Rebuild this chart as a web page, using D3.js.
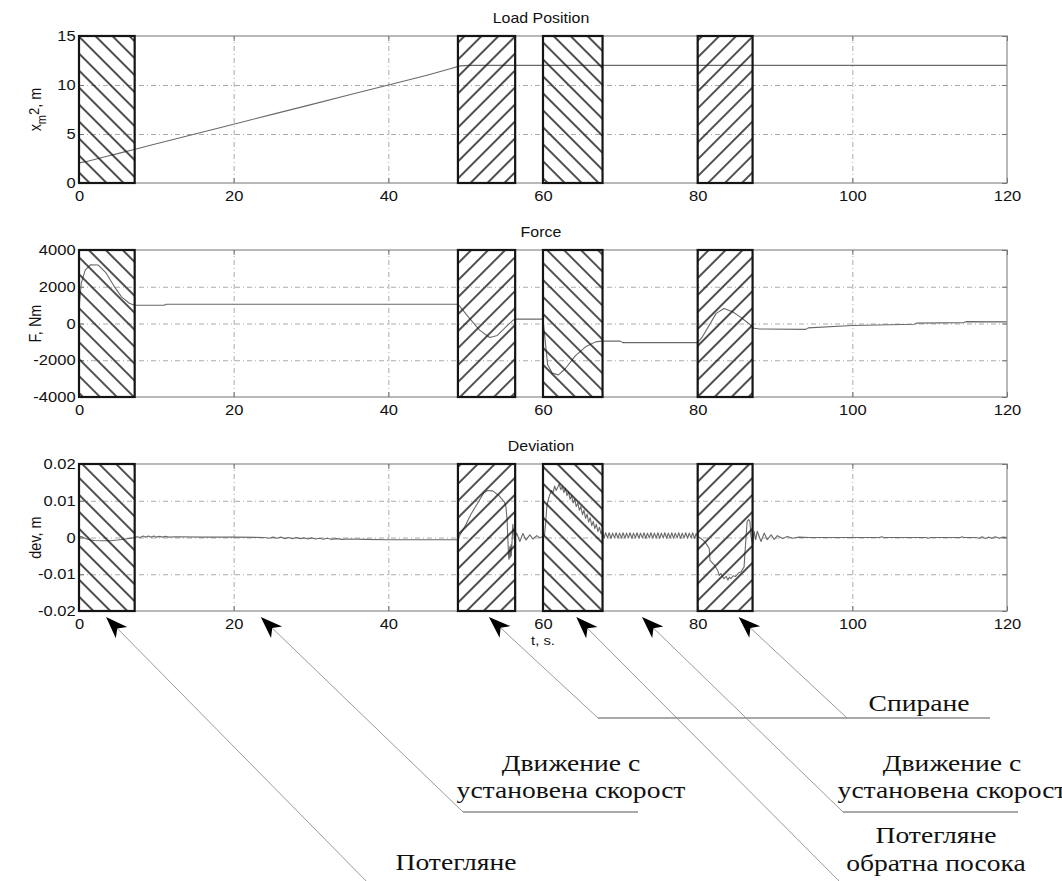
<!DOCTYPE html>
<html>
<head>
<meta charset="utf-8">
<script src="https://cdn.jsdelivr.net/npm/d3@7"></script>
<style>
  body { margin: 0; background: #fff; }
  svg { display: block; }
  .sans { font-family: "Liberation Sans", Arial, Helvetica, sans-serif; fill: #111; }
  .serif { font-family: "Liberation Serif", "Times New Roman", serif; fill: #111; }
</style>
</head>
<body>
<svg id="chart" width="1062" height="881"></svg>
<script>
// ---- data ----
const timeTicks = [0, 20, 40, 60, 80, 100, 120];
const positionTicks = [0, 5, 10, 15];
const forceTicks = [-4000, -2000, 0, 2000, 4000];
const deviationTicks = [-0.02, -0.01, 0, 0.01, 0.02];

// motion phases: [start s, end s, hatch direction]
const phaseIntervals = [
  [0, 7.2, "back"],
  [49, 56.4, "fwd"],
  [60, 67.7, "back"],
  [80, 87.1, "fwd"]
];

// load position x_m2, m
const positionSeries = [
  [0, 2.05], [1, 2.2], [2, 2.4], [3, 2.6], [4, 2.8], [5, 3.0], [6, 3.2], [7, 3.4],
  [10, 4.0], [15, 5.0], [20, 6.0], [25, 7.0], [30, 8.0], [35, 9.0], [40, 10.0],
  [45, 11.0], [48, 11.65], [49.3, 11.95], [50.5, 12.0], [120, 12.0]
];

// force F, Nm
const forceSeries = [
  [0, 800], [0.3, 2200], [0.8, 2900], [1.5, 3200], [2.5, 3180], [3.5, 2750], [4.5, 2050],
  [5.5, 1450], [6.5, 1100], [7.2, 990], [11, 990], [11.3, 1050], [49, 1050],
  [50.5, 280], [51.8, -360], [53.1, -760], [54.1, -650], [55.4, -100], [56.3, 240], [60, 240],
  [60.3, -1000], [60.6, -2250], [61.2, -2700], [62, -2800], [62.9, -2450], [64.2, -1750],
  [65.5, -1270], [66.8, -1000], [67.6, -960], [70, -960], [70.3, -1040], [80, -1040],
  [80.6, -730], [81.5, -90], [82.4, 550], [83.4, 820], [84.5, 640], [85.5, 360], [86.6, 0],
  [87.3, -260], [88, -300], [94, -320], [94.3, -240], [100, -110], [108, -40], [108.3, 20],
  [114.4, 50], [114.7, 100], [120, 90]
];

// deviation dev, m
const deviationSeries = [
  [0, 0.0003], [0.5, 0.0001], [1, -0.0004], [1.5, -0.0007], [2, -0.0008], [3, -0.0009],
  [4, -0.0009], [5, -0.0007], [6, -0.0004], [7, -0.0001], [7.5, 0.0002], [7.9, 0],
  [8.3, 0.0004], [8.6, 0.0001], [9, 0.0004], [9.3, 0.0001], [9.7, 0.0004], [10, 0.0001],
  [10.4, 0.0003], [10.8, 0.0001], [11.2, 0.0003], [11.6, 0.0001], [12.5, 0.0002],
  [16, 0.0001], [20, 0.0001], [24, 0], [24.6, -0.0002], [25.1, 0.0001], [25.6, -0.0002],
  [26.1, 0.0001], [26.6, -0.0003], [27.1, 0], [27.6, -0.0003], [28.1, 0], [28.6, -0.0003],
  [29.1, -0.0001], [29.6, -0.0004], [30.1, -0.0001], [30.6, -0.0004], [31.1, -0.0002],
  [31.6, -0.0005], [32.1, -0.0002], [32.6, -0.0005], [33.3, -0.0003], [34, -0.0005],
  [35, -0.0004], [37, -0.0005], [40, -0.0006], [45, -0.0006], [49, -0.0006],
  [49.2, 0.0005], [49.9, 0.003], [50.7, 0.0064], [51.6, 0.0095], [52.3, 0.012],
  [52.8, 0.0128], [53.5, 0.0127], [54.3, 0.0114], [55.0, 0.0097], [55.2, 0.0085],
  [55.35, 0.005], [55.45, 0], [55.55, -0.005], [55.6, -0.006], [55.7, -0.0025],
  [55.75, -0.0055], [55.85, -0.002], [55.9, -0.005], [56.0, -0.001], [56.1, 0.0036],
  [56.3, -0.0005], [56.6, 0.0012], [57, -0.0011], [57.4, 0.0011], [57.8, -0.0007],
  [58.3, 0.0007], [58.7, -0.0004], [59.2, 0.0005], [59.6, -0.0001], [60, 0.0003],
  [60.2, 0.0008], [60.35, 0.004], [60.5, 0.0086], [60.8, 0.0112], [61.1, 0.0128],
  [61.3, 0.0122], [61.5, 0.014], [61.7, 0.0128], [61.9, 0.0136], [62.1, 0.0146],
  [62.3, 0.013], [62.5, 0.0138], [62.7, 0.0122], [62.9, 0.0134], [63.1, 0.0114],
  [63.3, 0.0124], [63.5, 0.0104], [63.7, 0.0114], [63.9, 0.0094], [64.1, 0.0104],
  [64.3, 0.0084], [64.5, 0.0094], [64.7, 0.0074], [64.9, 0.0084], [65.1, 0.0062],
  [65.3, 0.0074], [65.5, 0.0052], [65.7, 0.0064], [65.9, 0.0042], [66.1, 0.0054],
  [66.3, 0.0032], [66.5, 0.0044], [66.7, 0.0024], [66.9, 0.0036], [67.1, 0.0016],
  [67.3, 0.0028], [67.5, 0.001], [67.7, 0.002],
  [67.9, -0.0002], [68.1, 0.0013], [68.35, -0.0001], [68.55, 0.0013], [68.8, -0.0002],
  [69.0, 0.0012], [69.25, -0.0001], [69.45, 0.0013], [69.7, -0.0002], [69.9, 0.0012],
  [70.15, -0.0001], [70.35, 0.0013], [70.6, -0.0002], [70.8, 0.0012], [71.05, -0.0001],
  [71.25, 0.0013], [71.5, -0.0002], [71.7, 0.0012], [71.95, -0.0001], [72.15, 0.0013],
  [72.4, -0.0002], [72.6, 0.0012], [72.85, -0.0001], [73.05, 0.0013], [73.3, -0.0002],
  [73.5, 0.0012], [73.75, -0.0001], [73.95, 0.0013], [74.2, -0.0002], [74.4, 0.0012],
  [74.65, -0.0001], [74.85, 0.0013], [75.1, -0.0002], [75.3, 0.0012], [75.55, -0.0001],
  [75.75, 0.0013], [76.0, -0.0002], [76.2, 0.0012], [76.45, -0.0001], [76.65, 0.0013],
  [76.9, -0.0002], [77.1, 0.0012], [77.35, -0.0001], [77.55, 0.0013], [77.8, -0.0002],
  [78.0, 0.0012], [78.25, -0.0001], [78.45, 0.0013], [78.7, -0.0002], [78.9, 0.0012],
  [79.15, -0.0001], [79.35, 0.0013], [79.6, -0.0002], [79.8, 0.0011], [80.0, 0.0003],
  [80.4, -0.0002], [80.9, -0.0011], [81.2, -0.002], [81.5, -0.003], [81.6, -0.0062],
  [82.2, -0.0076], [82.6, -0.009], [82.8, -0.0103], [83.0, -0.0098], [83.4, -0.0112],
  [83.7, -0.0106], [83.9, -0.0116], [84.1, -0.0108], [84.3, -0.0112], [84.6, -0.0104],
  [84.9, -0.0106], [85.3, -0.0096], [85.6, -0.0094], [86, -0.008], [86.2, -0.0016],
  [86.4, 0.0044], [86.6, 0.0049], [86.75, 0.0044], [86.9, 0.0003], [87.1, -0.002],
  [87.3, 0.0017], [87.5, -0.0006], [87.7, 0.0017], [88.2, -0.0011], [88.6, 0.0012],
  [89, -0.0006], [89.5, 0.0007], [89.9, -0.0005], [90.3, 0.0005], [91, -0.0003],
  [91.6, 0.0003], [92.3, -0.0002], [93.1, 0.0001], [94.4, 0], [96, 0], [103.5, 0],
  [103.8, 0.0002], [104.1, 0], [109.5, 0], [109.8, -0.0002], [110.1, 0], [114, 0],
  [114.2, 0.0002], [114.4, 0], [116, 0], [116.4, -0.0002], [116.8, 0.0002], [117.2, -0.0003],
  [117.6, 0.0001], [118, -0.0002], [118.5, 0.0002], [119, -0.0002], [119.5, 0.0001], [120, 0]
];

// phase callouts: time each arrow points at, and the caption it leads to
const arrowTimes = [3.5, 23.5, 53, 64.3, 72.8, 85.3];
const captionTexts = [
  ["Спиране"],
  ["Движение с", "установена скорост"],
  ["Движение с", "установена скорост"],
  ["Потегляне", "обратна посока"],
  ["Потегляне"]
];

// ---- layout ----
const W = 1062, H = 881;
const plotLeft = 79, plotRight = 1007, plotHeight = 147;
const sansStretch = 1.14, serifStretch = 1.2;

const svg = d3.select("#chart");
const defs = svg.append("defs");

function hatch(id, angle) {
  const p = defs.append("pattern")
    .attr("id", id)
    .attr("patternUnits", "userSpaceOnUse")
    .attr("width", 12).attr("height", 12)
    .attr("patternTransform", `rotate(${angle})`);
  p.append("line")
    .attr("x1", 6).attr("y1", -2).attr("x2", 6).attr("y2", 14)
    .attr("stroke", "#151515").attr("stroke-width", 1.5);
}
hatch("hatch-back", -45);
hatch("hatch-fwd", 45);

const x = d3.scaleLinear().domain([0, 120]).range([plotLeft, plotRight]);

function sansText(g, px, py, str, size, anchor) {
  return g.append("text")
    .attr("class", "sans")
    .attr("transform", `translate(${px},${py}) scale(${sansStretch},1)`)
    .attr("text-anchor", anchor || "middle")
    .style("font-size", size + "px")
    .text(str);
}

const panels = [
  { title: "Load Position", top: 36, data: positionSeries, domain: [0, 15], ticks: positionTicks, label: "position" },
  { title: "Force", top: 250, data: forceSeries, domain: [-4000, 4000], ticks: forceTicks, label: "F, Nm" },
  { title: "Deviation", top: 464, data: deviationSeries, domain: [-0.02, 0.02], ticks: deviationTicks, label: "dev, m" }
];

panels.forEach(pn => {
  const top = pn.top, bottom = top + plotHeight;
  const y = d3.scaleLinear().domain(pn.domain).range([bottom, top]);
  const g = svg.append("g");

  // grid
  const gridX = g.append("g").attr("transform", `translate(0,${bottom})`)
    .call(d3.axisBottom(x).tickValues(timeTicks.slice(1, -1)).tickSize(-plotHeight).tickFormat(""));
  const gridY = g.append("g").attr("transform", `translate(${plotLeft},0)`)
    .call(d3.axisLeft(y).tickValues(pn.ticks.slice(1, -1)).tickSize(-(plotRight - plotLeft)).tickFormat(""));
  [gridX, gridY].forEach(a => {
    a.select(".domain").remove();
    a.selectAll("line").attr("stroke", "#aaa").attr("stroke-width", 1).attr("stroke-dasharray", "5,3,1,3");
  });

  // series
  const line = d3.line().x(d => x(d[0])).y(d => y(d[1]));
  g.append("path").datum(pn.data)
    .attr("d", line)
    .attr("fill", "none")
    .attr("stroke", "#6a6a6a")
    .attr("stroke-width", 1.1)
    .attr("stroke-linejoin", "round");

  // frame
  g.append("rect")
    .attr("x", plotLeft).attr("y", top)
    .attr("width", plotRight - plotLeft).attr("height", plotHeight)
    .attr("fill", "none").attr("stroke", "#8a8a8a").attr("stroke-width", 1.2);

  // inner ticks on all four sides
  const tickStyle = a => {
    a.select(".domain").remove();
    a.selectAll("line").attr("stroke", "#777");
  };
  g.append("g").attr("transform", `translate(0,${top})`)
    .call(d3.axisTop(x).tickValues(timeTicks).tickSize(-5).tickFormat("")).call(tickStyle);
  g.append("g").attr("transform", `translate(${plotRight},0)`)
    .call(d3.axisRight(y).tickValues(pn.ticks).tickSize(-5).tickFormat("")).call(tickStyle);

  const ax = g.append("g").attr("transform", `translate(0,${bottom})`)
    .call(d3.axisBottom(x).tickValues(timeTicks).tickSize(-5).tickPadding(8).tickFormat(d => String(d)));
  const ay = g.append("g").attr("transform", `translate(${plotLeft},0)`)
    .call(d3.axisLeft(y).tickValues(pn.ticks).tickSize(-5).tickPadding(3).tickFormat(d => String(d)));
  [ax, ay].forEach(a => {
    tickStyle(a);
    a.selectAll("text")
      .attr("class", "sans")
      .attr("fill", "#111")
      .style("font-size", "14.5px")
      .attr("transform", `scale(${sansStretch},1)`);
  });

  // phase boxes
  g.selectAll("rect.phase").data(phaseIntervals).join("rect")
    .attr("class", "phase")
    .attr("x", d => x(d[0])).attr("y", top)
    .attr("width", d => x(d[1]) - x(d[0])).attr("height", plotHeight)
    .attr("fill", d => d[2] === "back" ? "url(#hatch-back)" : "url(#hatch-fwd)")
    .attr("stroke", "#151515").attr("stroke-width", 2.2);

  // title
  sansText(g, (plotLeft + plotRight) / 2 - 2, top - 13, pn.title, 14);

  // y label
  const cy = (top + bottom) / 2;
  const lab = g.append("text")
    .attr("class", "sans")
    .attr("transform", `translate(41,${cy}) rotate(-90) scale(1,${sansStretch})`)
    .attr("text-anchor", "middle")
    .style("font-size", "14.5px");
  if (pn.label === "position") {
    lab.append("tspan").text("x");
    lab.append("tspan").attr("dy", 4).style("font-size", "11px").text("m");
    lab.append("tspan").attr("dy", -6).style("font-size", "13px").text("2");
    lab.append("tspan").attr("dy", 2).text(", m");
  } else {
    lab.text(pn.label);
  }
});

// x-axis caption of the lowest panel
sansText(svg, 543, 645, "t, s.", 13);

// ---- phase callouts ----
const devBottom = panels[2].top + plotHeight;
const tipY = devBottom + 6;
const arrowEnds = [[375, 890], [463, 812], [598, 718], [848, 890], [843, 812], [847, 718]];
const underlines = [[598, 990, 718], [463, 638, 812], [843, 1018, 812]];

const callouts = svg.append("g");
arrowTimes.forEach((t, i) => {
  const tx = x(t), ty = tipY;
  const [ex, ey] = arrowEnds[i];
  const len = Math.hypot(ex - tx, ey - ty);
  const ux = (ex - tx) / len, uy = (ey - ty) / len;
  const nx = -uy, ny = ux;
  const L = 22, Wd = 8, notch = 16;
  callouts.append("line")
    .attr("x1", tx + ux * notch).attr("y1", ty + uy * notch)
    .attr("x2", ex).attr("y2", ey)
    .attr("stroke", "#9a9a9a").attr("stroke-width", 1);
  const pts = [
    [tx, ty],
    [tx + ux * L + nx * Wd, ty + uy * L + ny * Wd],
    [tx + ux * notch, ty + uy * notch],
    [tx + ux * L - nx * Wd, ty + uy * L - ny * Wd]
  ];
  callouts.append("path")
    .attr("d", "M" + pts.map(p => p.join(",")).join("L") + "Z")
    .attr("fill", "#000");
});

underlines.forEach(u => {
  callouts.append("line")
    .attr("x1", u[0]).attr("x2", u[1]).attr("y1", u[2]).attr("y2", u[2])
    .attr("stroke", "#8c8c8c").attr("stroke-width", 1.6);
});

function serifText(px, py, str) {
  callouts.append("text")
    .attr("class", "serif")
    .attr("transform", `translate(${px},${py}) scale(${serifStretch},1)`)
    .attr("text-anchor", "middle")
    .style("font-size", "23px")
    .text(str);
}
const captionAnchors = [
  [919, [711]],
  [571, [771, 798]],
  [952, [771, 798]],
  [936, [843, 871]],
  [456, [870]]
];
captionTexts.forEach((lines, i) => {
  const [cx, ys] = captionAnchors[i];
  lines.forEach((s, j) => serifText(cx, ys[j], s));
});
</script>
</body>
</html>
